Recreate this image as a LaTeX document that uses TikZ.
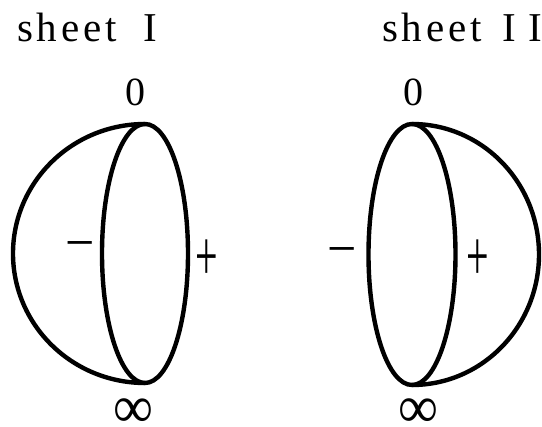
\documentclass[tikz,border=0pt]{standalone}
\usepackage{fontspec}
\setmainfont{Liberation Serif}
\usetikzlibrary{positioning}
\newcommand{\lsp}{\kern3.75pt}

\begin{document}
\begin{tikzpicture}[x=1pt,y=-1pt,
  sheetlbl/.style={font=\fontsize{41}{41}\selectfont,anchor=base west,inner sep=0pt},
  pointlbl/.style={font=\fontsize{40}{40}\selectfont,inner sep=0pt},
  rim/.style={line width=4.4pt,draw=black}]
  \useasboundingbox (0,0) rectangle (542,427);
  % sheet I
  \node[sheetlbl] (titleone) at (17,42) {s\lsp h\lsp e\lsp e\lsp t\kern27pt I};
  \draw[rim] (145,253.5) ellipse [x radius=43,y radius=129.5];
  \draw[rim] (145,124) arc [start angle=-90,end angle=-270,x radius=132,y radius=129.5];
  \node[pointlbl,anchor=base] (zeroone) at (135,106) {0};
  \node[pointlbl] (infone) at (133,413) {\scalebox{1.4}[1.5]{∞}};
  \node[pointlbl] (minusone) at (80,252) {\scalebox{1.3}[1.4]{−}};
  \node[pointlbl] (plusone) at (207,260) {\scalebox{1}[1.8]{+}};
  % sheet II
  \node[sheetlbl] (titletwo) at (382,42) {s\lsp h\lsp e\lsp e\lsp t\kern21pt I\kern12pt I};
  \draw[rim] (412,254.5) ellipse [x radius=43.5,y radius=130.5];
  \draw[rim] (412,124) arc [start angle=-90,end angle=90,x radius=127,y radius=130.5];
  \node[pointlbl,anchor=base] (zerotwo) at (413,106) {0};
  \node[pointlbl] (inftwo) at (418,413) {\scalebox{1.4}[1.5]{∞}};
  \node[pointlbl] (minustwo) at (342,258) {\scalebox{1.3}[1.4]{−}};
  \node[pointlbl] (plustwo) at (478,260) {\scalebox{1}[1.8]{+}};
\end{tikzpicture}
\end{document}
